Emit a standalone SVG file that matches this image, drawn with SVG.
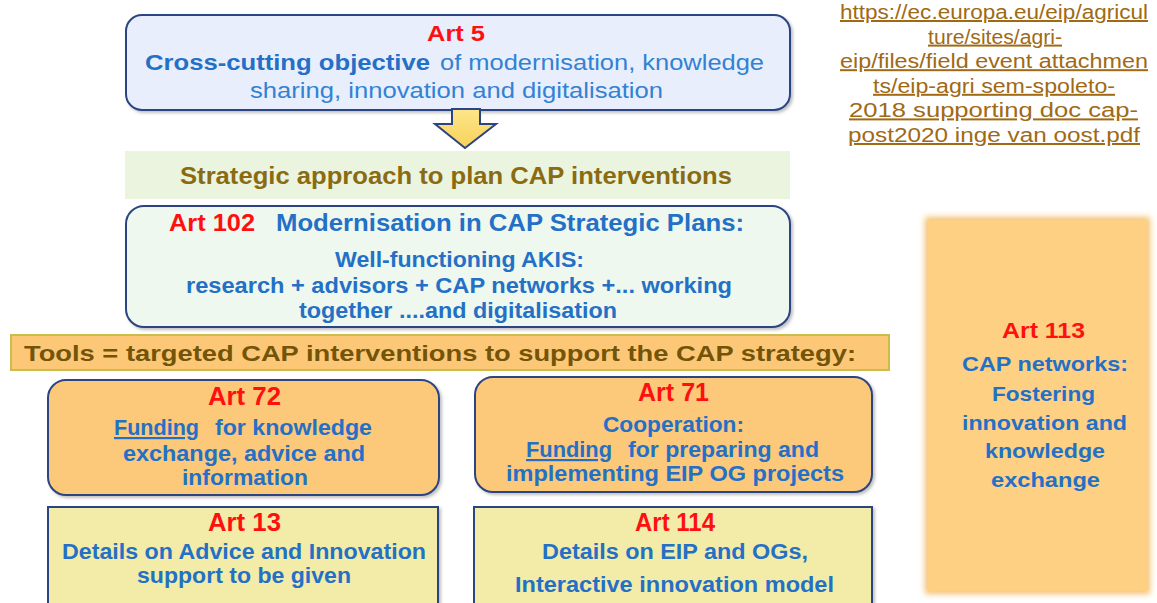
<svg xmlns="http://www.w3.org/2000/svg" width="1157" height="603" viewBox="0 0 1157 603">
<defs>
<filter id="sh" x="-5%" y="-5%" width="110%" height="115%">
<feDropShadow dx="2" dy="2" stdDeviation="1.5" flood-color="#000" flood-opacity="0.25"/>
</filter>
<filter id="blur" x="-10%" y="-10%" width="120%" height="120%">
<feGaussianBlur stdDeviation="3"/>
</filter>
<linearGradient id="arrowFill" x1="0" y1="0" x2="0" y2="1">
<stop offset="0" stop-color="#fde58a"/>
<stop offset="1" stop-color="#f8d25a"/>
</linearGradient>
</defs>
<style>
text{font-family:"Liberation Sans Narrow","Liberation Sans",Arial,sans-serif;}
.b{font-weight:bold;}
.red{fill:#ff1010;}
.blue{fill:#2470c6;}
.lblue{fill:#3282d4;}
.box{stroke:#2c4482;stroke-width:2;}
.u{text-decoration:underline;}
.url{font-family:"Liberation Sans",Arial,sans-serif;font-size:20px;fill:#a06a14;text-decoration:underline;}
.w{font-family:"Liberation Sans",Arial,sans-serif;font-weight:bold;}
</style>
<rect width="1157" height="603" fill="#ffffff"/>

<g id="url">
<text class="url" x="840" y="19" textLength="308" lengthAdjust="spacingAndGlyphs">https://ec.europa.eu/eip/agricul</text>
<text class="url" x="928" y="43.6" textLength="134" lengthAdjust="spacingAndGlyphs">ture/sites/agri-</text>
<text class="url" x="840" y="68.2" textLength="308" lengthAdjust="spacingAndGlyphs">eip/files/field event attachmen</text>
<text class="url" x="873" y="92.8" textLength="242" lengthAdjust="spacingAndGlyphs">ts/eip-agri sem-spoleto-</text>
<text class="url" x="849" y="117.4" textLength="289" lengthAdjust="spacingAndGlyphs">2018 supporting doc cap-</text>
<text class="url" x="848" y="142" textLength="292" lengthAdjust="spacingAndGlyphs">post2020 inge van oost.pdf</text>
</g>

<g id="art5">
<rect class="box" x="126" y="15" width="664" height="95" rx="16" fill="#e8eefc" filter="url(#sh)"/>
<text class="b red" x="427" y="41" font-size="22" textLength="58" lengthAdjust="spacingAndGlyphs">Art 5</text>
<text class="b blue" x="145" y="70" font-size="22" textLength="285" lengthAdjust="spacingAndGlyphs">Cross-cutting  objective</text>
<text class="lblue" x="440" y="70" font-size="22" textLength="324" lengthAdjust="spacingAndGlyphs">of modernisation,  knowledge</text>
<text class="lblue" x="250" y="98" font-size="22" textLength="413" lengthAdjust="spacingAndGlyphs">sharing, innovation  and digitalisation</text>
</g>

<g id="connectors">
<polygon points="452,109 480,109 480,124 496,124 465,148 435,124 452,124" fill="url(#arrowFill)" stroke="#2c4482" stroke-width="2" stroke-linejoin="miter"/>
</g>

<g id="strategic">
<rect x="125" y="151" width="665" height="48" fill="#ebf4de"/>
<text class="b" x="180" y="184" font-size="24" fill="#8a6b12" textLength="552" lengthAdjust="spacingAndGlyphs">Strategic approach to plan CAP interventions</text>
</g>

<g id="art102">
<rect class="box" x="126" y="206" width="664" height="121" rx="18" fill="#eef8ee" filter="url(#sh)"/>
<text class="b red" x="169" y="231" font-size="24" textLength="86" lengthAdjust="spacingAndGlyphs">Art 102</text>
<text class="b blue" x="276" y="231" font-size="24" textLength="468" lengthAdjust="spacingAndGlyphs">Modernisation in CAP Strategic Plans:</text>
<text class="b blue" x="335" y="267" font-size="22" textLength="249" lengthAdjust="spacingAndGlyphs">Well-functioning AKIS:</text>
<text class="b blue" x="186" y="293" font-size="22" textLength="546" lengthAdjust="spacingAndGlyphs">research + advisors + CAP networks +... working</text>
<text class="b blue" x="299" y="318" font-size="22" textLength="318" lengthAdjust="spacingAndGlyphs">together ....and digitalisation</text>
</g>

<g id="tools">
<rect x="11" y="335" width="878" height="35" fill="#fcc878" stroke="#cbbd4c" stroke-width="2"/>
<text class="w" x="24" y="361" font-size="22" fill="#735408" textLength="832" lengthAdjust="spacingAndGlyphs">Tools = targeted CAP interventions to support the CAP strategy:</text>
</g>

<g id="art72">
<rect class="box" x="48" y="380" width="391" height="115" rx="18" fill="#fcc87a" filter="url(#sh)"/>
<text class="b red" x="208" y="405" font-size="25" textLength="73" lengthAdjust="spacingAndGlyphs">Art 72</text>
<text class="b blue u" x="114" y="435" font-size="22" textLength="85" lengthAdjust="spacingAndGlyphs">Funding</text>
<text class="b blue" x="215" y="435" font-size="22" textLength="157" lengthAdjust="spacingAndGlyphs">for knowledge</text>
<text class="b blue" x="123" y="461" font-size="22" textLength="242" lengthAdjust="spacingAndGlyphs">exchange, advice and</text>
<text class="b blue" x="182" y="485" font-size="22" textLength="126" lengthAdjust="spacingAndGlyphs">information</text>
</g>

<g id="art71">
<rect class="box" x="475" y="377" width="397" height="115" rx="18" fill="#fcc87a" filter="url(#sh)"/>
<text class="b red" x="638" y="401" font-size="25" textLength="71" lengthAdjust="spacingAndGlyphs">Art 71</text>
<text class="b blue" x="603" y="432" font-size="22" textLength="141" lengthAdjust="spacingAndGlyphs">Cooperation:</text>
<text class="b blue u" x="526" y="457" font-size="22" textLength="86" lengthAdjust="spacingAndGlyphs">Funding</text>
<text class="b blue" x="628" y="457" font-size="22" textLength="191" lengthAdjust="spacingAndGlyphs">for preparing and</text>
<text class="b blue" x="506" y="481" font-size="22" textLength="338" lengthAdjust="spacingAndGlyphs">implementing EIP OG projects</text>
</g>

<g id="art13">
<rect class="box" x="48" y="507" width="390" height="110" fill="#f2eca8" filter="url(#sh)"/>
<text class="b red" x="208" y="531" font-size="25" textLength="73" lengthAdjust="spacingAndGlyphs">Art 13</text>
<text class="b blue" x="62" y="559" font-size="22" textLength="364" lengthAdjust="spacingAndGlyphs">Details on Advice and Innovation</text>
<text class="b blue" x="137" y="583" font-size="22" textLength="214" lengthAdjust="spacingAndGlyphs">support to be given</text>
</g>

<g id="art114">
<rect class="box" x="474" y="507" width="398" height="110" fill="#f2eca8" filter="url(#sh)"/>
<text class="b red" x="635" y="531" font-size="25" textLength="80" lengthAdjust="spacingAndGlyphs">Art 114</text>
<text class="b blue" x="542" y="559" font-size="22" textLength="266" lengthAdjust="spacingAndGlyphs">Details on EIP and OGs,</text>
<text class="b blue" x="515" y="592" font-size="22" textLength="319" lengthAdjust="spacingAndGlyphs">Interactive innovation  model</text>
</g>

<g id="art113">
<rect x="925" y="217" width="225" height="377" fill="#f3c070" filter="url(#blur)"/>
<rect x="928" y="220" width="219" height="371" fill="#fdd083"/>
<text class="w red" x="1002" y="338" font-size="22" textLength="83" lengthAdjust="spacingAndGlyphs">Art 113</text>
<text class="w blue" x="962" y="371" font-size="21" textLength="166" lengthAdjust="spacingAndGlyphs">CAP networks:</text>
<text class="w blue" x="992" y="401" font-size="21" textLength="103" lengthAdjust="spacingAndGlyphs">Fostering</text>
<text class="w blue" x="962" y="430" font-size="21" textLength="165" lengthAdjust="spacingAndGlyphs">innovation  and</text>
<text class="w blue" x="985" y="458" font-size="21" textLength="120" lengthAdjust="spacingAndGlyphs">knowledge</text>
<text class="w blue" x="991" y="487" font-size="21" textLength="109" lengthAdjust="spacingAndGlyphs">exchange</text>
</g>
</svg>
